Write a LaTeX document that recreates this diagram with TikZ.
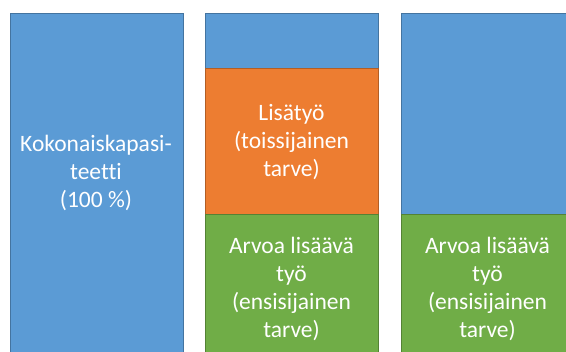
\documentclass[tikz,border=0pt]{standalone}
\usepackage{fontspec}
\setmainfont{Carlito}[Ligatures=NoCommon]
\definecolor{capblue}{HTML}{5B9BD5}
\definecolor{extraorange}{HTML}{ED7D31}
\definecolor{valuegreen}{HTML}{70AD47}

\begin{document}
\begin{tikzpicture}[x=1pt,y=-1pt,font=\fontsize{23.5}{28}\selectfont,
    box/.style={fill=#1,draw=#1!75!black,line width=0.6pt,inner sep=0pt,
                anchor=north west,minimum width=172.5pt},
    boxtext/.style={text=white,align=center}]
    \useasboundingbox (0,0) rectangle (566,352);
    \clip (0,0) rectangle (566,352);

    \node[box=capblue,name=total,minimum height=350pt] at (10,13) {};

    \node[box=capblue,name=midtop,minimum height=55pt] at (205,13) {};
    \node[box=extraorange,name=extra,minimum height=146pt] at (205,68) {};
    \node[box=valuegreen,name=value1,minimum height=150pt] at (205,214) {};

    \node[box=capblue,name=rtop,minimum height=201pt] at (401,13) {};
    \node[box=valuegreen,name=value2,minimum height=150pt] at (401,214) {};

    \node[boxtext,name=totaltext] at (96,173) {Kokonaiskapasi-\\teetti\\(100 \%)};
    \node[boxtext,name=extratext] at (291.5,142) {Lisätyö\\(toissijainen\\tarve)};
    \node[boxtext,name=value1text] at (291.5,289) {Arvoa lisäävä\\työ\\(ensisijainen\\tarve)};
    \node[boxtext,name=value2text] at (487.5,289) {Arvoa lisäävä\\työ\\(ensisijainen\\tarve)};
\end{tikzpicture}
\end{document}
